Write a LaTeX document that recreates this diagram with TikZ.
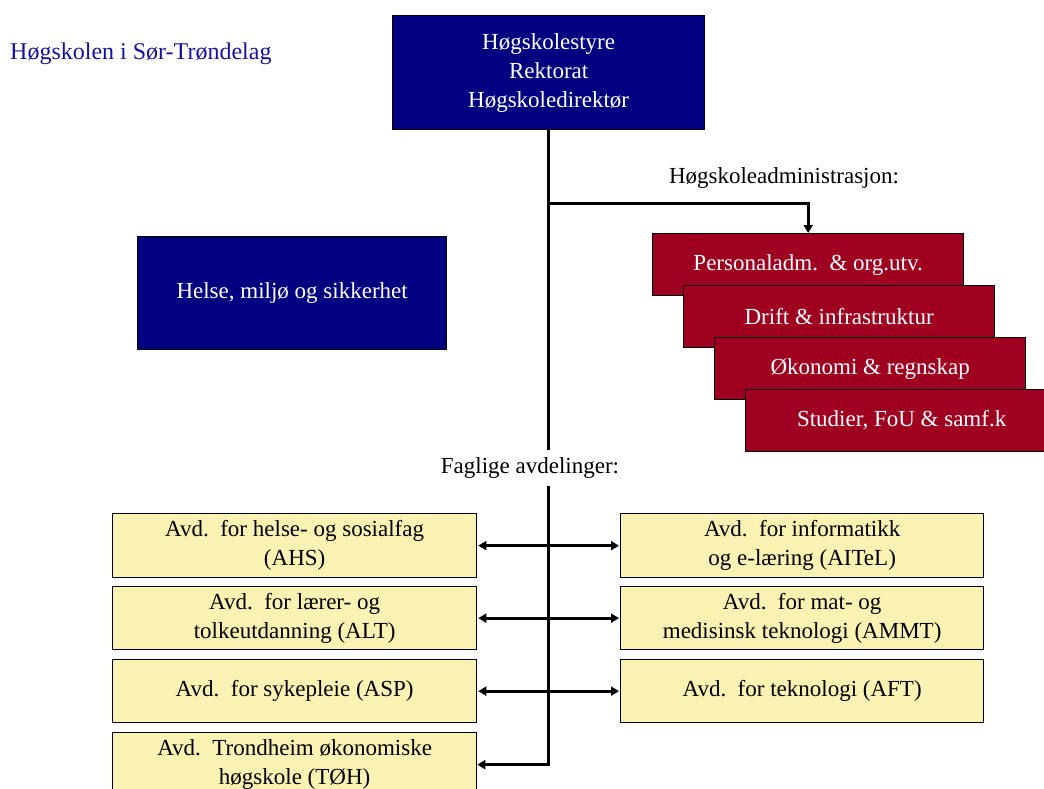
\documentclass[tikz,border=0pt]{standalone}
\usepackage{fontspec}
\setmainfont{Liberation Serif}
\usetikzlibrary{arrows.meta}
\definecolor{navybox}{RGB}{0,0,128}
\definecolor{redbox}{RGB}{160,0,32}
\definecolor{yellowbox}{RGB}{250,242,178}
\definecolor{titleblue}{RGB}{20,20,160}
\begin{document}
\begin{tikzpicture}[x=1pt,y=-1pt,
  font=\fontsize{23}{29}\selectfont,
  box/.style={draw=black, line width=1.3pt, inner sep=0pt, align=center, anchor=north west},
  navy/.style={box, fill=navybox, text=white},
  redb/.style={box, fill=redbox, text=white, minimum width=311pt, minimum height=62pt},
  yel/.style={box, fill=yellowbox, text=black, minimum width=364pt, minimum height=64pt},
  link/.style={line width=3pt, black},
  tip/.style={-{Triangle[length=8pt,width=9pt]}},
  both/.style={{Triangle[length=8pt,width=9pt]}-{Triangle[length=8pt,width=9pt]}},
  lbl/.style={inner sep=2pt}
]
\useasboundingbox (0,0) rectangle (1044,789);
\fill[white] (0,0) rectangle (1044,789);

\node[lbl, anchor=west, text=titleblue, font=\fontsize{24}{29}\selectfont] (title) at (8,54) {Høgskolen i Sør-Trøndelag};

\node[navy, minimum width=312pt, minimum height=114pt] (top) at (392,15)
  {Høgskolestyre\\Rektorat\\Høgskoledirektør};
\node[navy, minimum width=309pt, minimum height=113pt] (hms) at (137,236)
  {Helse, miljø og sikkerhet};

\node[lbl] (adm) at (784,178) {Høgskoleadministrasjon:};

\node[redb] (r1) at (652,233) {Personaladm.\ \ \& org.utv.};
\node[redb] (r2) at (683,285) {Drift \& infrastruktur};
\node[redb] (r3) at (714,337) {Økonomi \& regnskap};
\node[redb, minimum width=312pt] (r4) at (745,389) {Studier, FoU \& samf.k};

\node[yel] (l1) at (112,513) {Avd.\ \ for helse- og sosialfag\\(AHS)};
\node[yel, minimum height=63pt] (l2) at (112,586) {Avd.\ \ for lærer- og\\tolkeutdanning (ALT)};
\node[yel, minimum height=63pt] (l3) at (112,659) {Avd.\ \ for sykepleie (ASP)};
\node[yel] (l4) at (112,732) {Avd.\ \ Trondheim økonomiske\\høgskole (TØH)};

\node[yel, minimum width=363pt] (q1) at (620,513) {Avd.\ \ for informatikk\\og e-læring (AITeL)};
\node[yel, minimum width=363pt, minimum height=63pt] (q2) at (620,586) {Avd.\ \ for mat- og\\medisinsk teknologi (AMMT)};
\node[yel, minimum width=363pt, minimum height=63pt] (q3) at (620,659) {Avd.\ \ for teknologi (AFT)};

\coordinate (branch) at (top.south |- 0,203);
\coordinate (bend) at (top.south |- l4.east);

\draw[link] (top.south) -- (branch);
\draw[link, tip] (branch) -| (r1.north);
\draw[link, tip] (branch) -- (bend) -- (l4.east);

\draw[link, both, shorten <=1pt, shorten >=1pt] (l1.east) -- (q1.west);
\draw[link, both, shorten <=1pt, shorten >=1pt] (l2.east) -- (q2.west);
\draw[link, both, shorten <=1pt, shorten >=1pt] (l3.east) -- (q3.west);

\node[lbl, fill=white, inner ysep=8pt] (fag) at (530,468) {Faglige avdelinger:};
\end{tikzpicture}
\end{document}
